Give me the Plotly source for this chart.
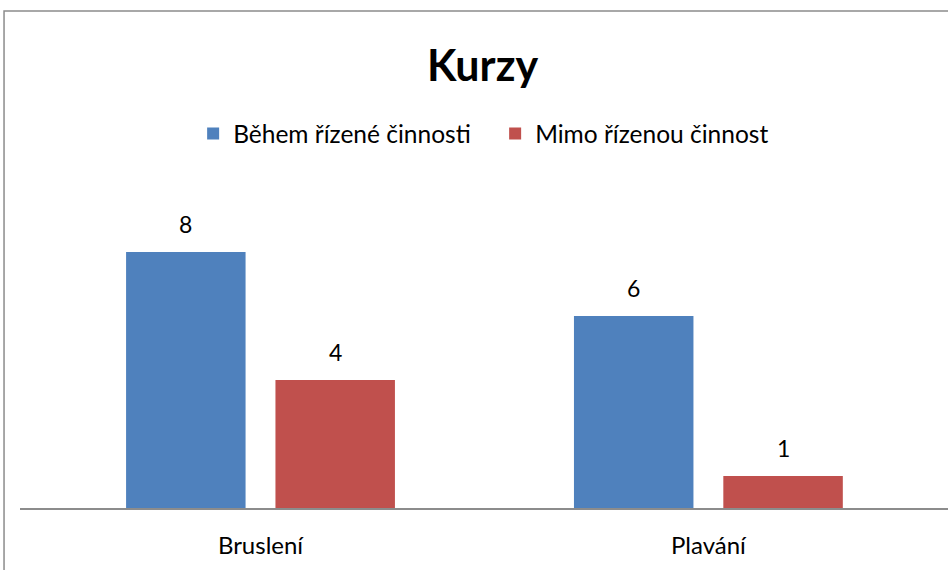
import plotly.graph_objects as go

# Course participation data
categories = ["Bruslení", "Plavání"]
series_names = ["Během řízené činnosti", "Mimo řízenou činnost"]
during_activity = [8, 6]
outside_activity = [4, 1]
series_values = [during_activity, outside_activity]
series_colors = ["#4F81BD", "#C0504D"]

FONT = "Lato, 'Open Sans', sans-serif"

fig = go.Figure()
for name, vals, col in zip(series_names, series_values, series_colors):
    fig.add_trace(go.Bar(
        name=name,
        x=categories,
        y=vals,
        marker=dict(color=col, line=dict(width=0)),
    ))

# Value labels above each bar, positioned from the bar values
n = len(series_names)
slot = 0.667 / n
for i, vals in enumerate(series_values):
    offset = -0.667 / 2 + slot * (i + 0.5)
    for j, v in enumerate(vals):
        fig.add_annotation(
            x=j + offset, y=v, xref="x", yref="y",
            text=str(v), showarrow=False,
            yanchor="bottom", yshift=12,
            font=dict(size=23, color="black", family=FONT),
        )

fig.update_layout(
    width=948, height=570,
    margin=dict(l=20, r=0, t=188, b=62),
    paper_bgcolor="white", plot_bgcolor="white",
    barmode="group", bargap=0.333, bargroupgap=0.2,
    title=dict(
        text="<b>Kurzy</b>", x=0.509, xanchor="center",
        y=0.885, yanchor="middle",
        font=dict(size=43, color="black", family=FONT),
    ),
    legend=dict(
        orientation="h", x=0.512, xanchor="center",
        y=1.17, yanchor="middle",
        font=dict(size=24.5, color="black", family=FONT),
        itemwidth=30, traceorder="normal",
        entrywidth=257,
    ),
    xaxis=dict(
        type="category",
        range=[-0.537, 1.535],
        showline=True, linecolor="#8c8c8c", linewidth=1.5,
        showgrid=False, zeroline=False,
        ticks="", ticklabelstandoff=15,
        tickfont=dict(size=24, color="black", family=FONT),
    ),
    yaxis=dict(
        range=[0, 10], showgrid=False, zeroline=False,
        showticklabels=False, showline=False,
    ),
    showlegend=True,
)

# Chart frame
fig.add_shape(
    type="rect", xref="paper", yref="paper",
    x0=-0.0172, x1=1.02, y0=-0.25, y1=1.553,
    line=dict(color="#8c8c8c", width=1.5), fillcolor="rgba(0,0,0,0)",
    layer="below",
)

fig.write_html("out.html")
